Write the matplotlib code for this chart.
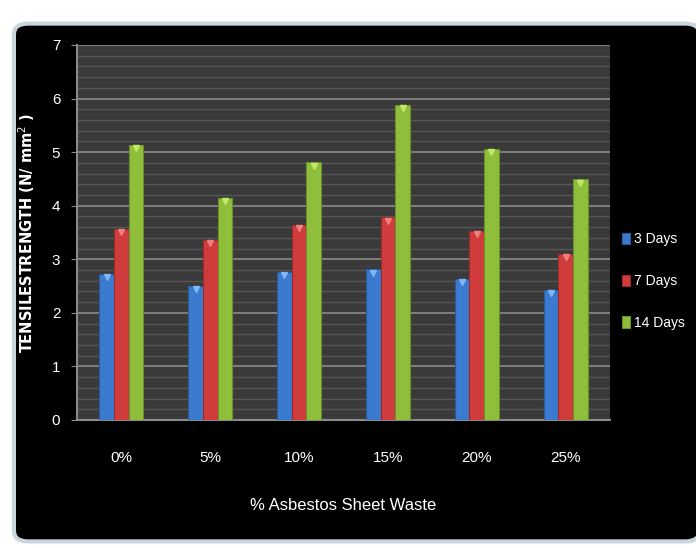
import numpy as np
import matplotlib
matplotlib.use("Agg")
import matplotlib.pyplot as plt
from matplotlib.patches import FancyBboxPatch

# data
categories = ["0%", "5%", "10%", "15%", "20%", "25%"]
days_3 = [2.72, 2.51, 2.76, 2.81, 2.63, 2.43]
days_7 = [3.56, 3.36, 3.64, 3.78, 3.53, 3.10]
days_14 = [5.13, 4.14, 4.81, 5.88, 5.06, 4.49]
series_names = ["3 Days", "7 Days", "14 Days"]

plt.rcParams['font.family'] = ['Liberation Sans', 'DejaVu Sans']

fig = plt.figure(figsize=(6.96, 5.48), dpi=100)
fig.patch.set_facecolor("white")

# outer chart frame (black rounded box)
frame = FancyBboxPatch((0.02, 0.012), 0.985, 0.945,
                       boxstyle="round,pad=0,rounding_size=0.02",
                       transform=fig.transFigure, facecolor="black",
                       edgecolor="#c9d6dc", linewidth=3, zorder=-10)
fig.patches.append(frame)

ax = fig.add_axes([0.1106, 0.2336, 0.7658, 0.6843])
ax.set_facecolor("#3a3a3a")

x = np.arange(len(categories))
w = 0.165
colors = ["#3a7bd0", "#d03c3c", "#8fbf3a"]
edges = ["#2a5a9a", "#9a2a2a", "#6a8f2a"]
tops = ["#7fb6f5", "#f08080", "#c2e86a"]
for i, (vals, name) in enumerate(zip([days_3, days_7, days_14], series_names)):
    ax.bar(x + (i - 1) * w, vals, width=w, color=colors[i], edgecolor=edges[i],
           linewidth=0.8, label=name, zorder=3)
    # small bevel highlight on top of each bar
    ax.plot(x + (i - 1) * w, np.array(vals) - 0.06, "v", color=tops[i],
            markersize=5, zorder=4)

ax.set_xlim(-0.5, len(categories) - 0.5)
ax.set_ylim(0, 7)
ax.set_yticks(range(0, 8))
ax.set_yticks(np.arange(0, 7.01, 0.2), minor=True)
ax.grid(True, which="major", axis="y", color="#8a8a8a", linewidth=1.2, zorder=1)
ax.grid(True, which="minor", axis="y", color="#565656", linewidth=1.0, zorder=1)
ax.set_axisbelow(True)
ax.tick_params(axis="y", which="minor", length=0)
ax.tick_params(axis="y", which="major", colors="#8a8a8a", labelcolor="white",
               length=4, direction="out", labelsize=11, pad=8)
ax.set_xticks(x)
ax.set_xticklabels(categories)
ax.tick_params(axis="x", length=0, labelcolor="white", labelsize=11, pad=22)

for s in ["top", "right"]:
    ax.spines[s].set_visible(False)
ax.spines["left"].set_color("#8a8a8a")
ax.spines["bottom"].set_color("#8a8a8a")
ax.spines["left"].set_linewidth(1.5)
ax.spines["bottom"].set_linewidth(1.5)

ax.set_xlabel("% Asbestos Sheet Waste", color="white", fontsize=12, labelpad=24)
ax.set_ylabel("TENSILESTRENGTH (N/ mm$^2$ )", color="white", fontsize=10.5,
              fontweight="bold", family="DejaVu Sans")
ax.yaxis.set_label_coords(-0.075, 0.5)

leg = ax.legend(loc="center left", bbox_to_anchor=(1.0, 0.37), frameon=False,
                labelcolor="white", fontsize=10, handlelength=0.55, handleheight=0.9,
                handletextpad=0.3, labelspacing=2.0)

fig.savefig("out.png", dpi=100, facecolor=fig.get_facecolor())
